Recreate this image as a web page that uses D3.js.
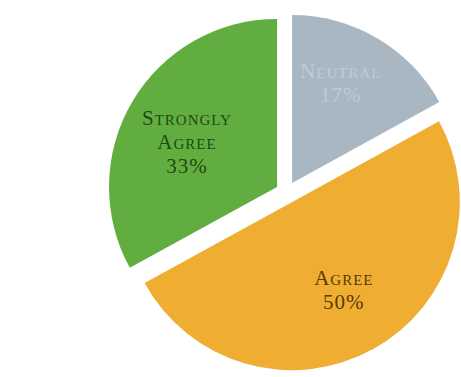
<!DOCTYPE html>
<html>
<head>
<meta charset="utf-8">
<script src="https://cdn.jsdelivr.net/npm/d3@7/dist/d3.min.js"></script>
<style>
  html, body { margin: 0; padding: 0; background: #ffffff; }
  svg { display: block; }
</style>
</head>
<body>
<script>
// Survey responses, drawn clockwise from 12 o'clock
const categories = ["Neutral", "Agree", "Strongly Agree"];
const values = [17, 50, 33];
const colors = ["#a8b7c2", "#efad32", "#62ad40"];
const labelColors = ["#bfcbd3", "#5a3a08", "#1f4a12"];

const width = 461, height = 377;
const cx = 286.5, cy = 192.5, radius = 168, explode = 11;

const svg = d3.select("body").append("svg")
  .attr("width", width).attr("height", height);

const pie = d3.pie().sort(null).value(d => d.value);
const arcs = pie(categories.map((c, i) => ({ name: c, value: values[i], i })));
const arc = d3.arc().innerRadius(0).outerRadius(radius);

// Unit vector along a slice's bisector (d3 angles run clockwise from top)
const dir = a => [Math.sin(a), -Math.cos(a)];

const g = svg.append("g").attr("transform", `translate(${cx},${cy})`);

const slice = g.selectAll("g.slice").data(arcs).join("g")
  .attr("class", "slice")
  .attr("transform", d => {
    const [ux, uy] = dir((d.startAngle + d.endAngle) / 2);
    return `translate(${ux * explode},${uy * explode})`;
  });

slice.append("path")
  .attr("d", arc)
  .attr("fill", d => colors[d.data.i]);

// Label placement: radius fraction and angular nudge per slice
const labelPos = [
  { r: 0.66, da: -0.08 },
  { r: 0.61, da: -0.03 },
  { r: 0.60, da: -0.07 }
];

slice.each(function (d) {
  const p = labelPos[d.data.i];
  const a = (d.startAngle + d.endAngle) / 2 + p.da;
  const [ux, uy] = dir(a);
  const x = ux * radius * p.r, y = uy * radius * p.r;
  const pct = Math.round(d.value) + "%";
  const words = d.data.name.split(" ");
  const lines = words.length > 1 ? words.concat([pct]) : [d.data.name, pct];
  const lh = 24;
  const t = d3.select(this).append("text")
    .attr("text-anchor", "middle")
    .attr("fill", labelColors[d.data.i])
    .style("font-family", "'Liberation Serif', 'DejaVu Serif', serif")
    .style("font-variant", "small-caps")
    .style("font-size", "21px")
    .style("letter-spacing", "1px");
  lines.forEach((ln, k) => {
    t.append("tspan")
      .attr("x", x)
      .attr("y", y + (k - (lines.length - 1) / 2) * lh + 7)
      .text(ln);
  });
});
</script>
</body>
</html>
